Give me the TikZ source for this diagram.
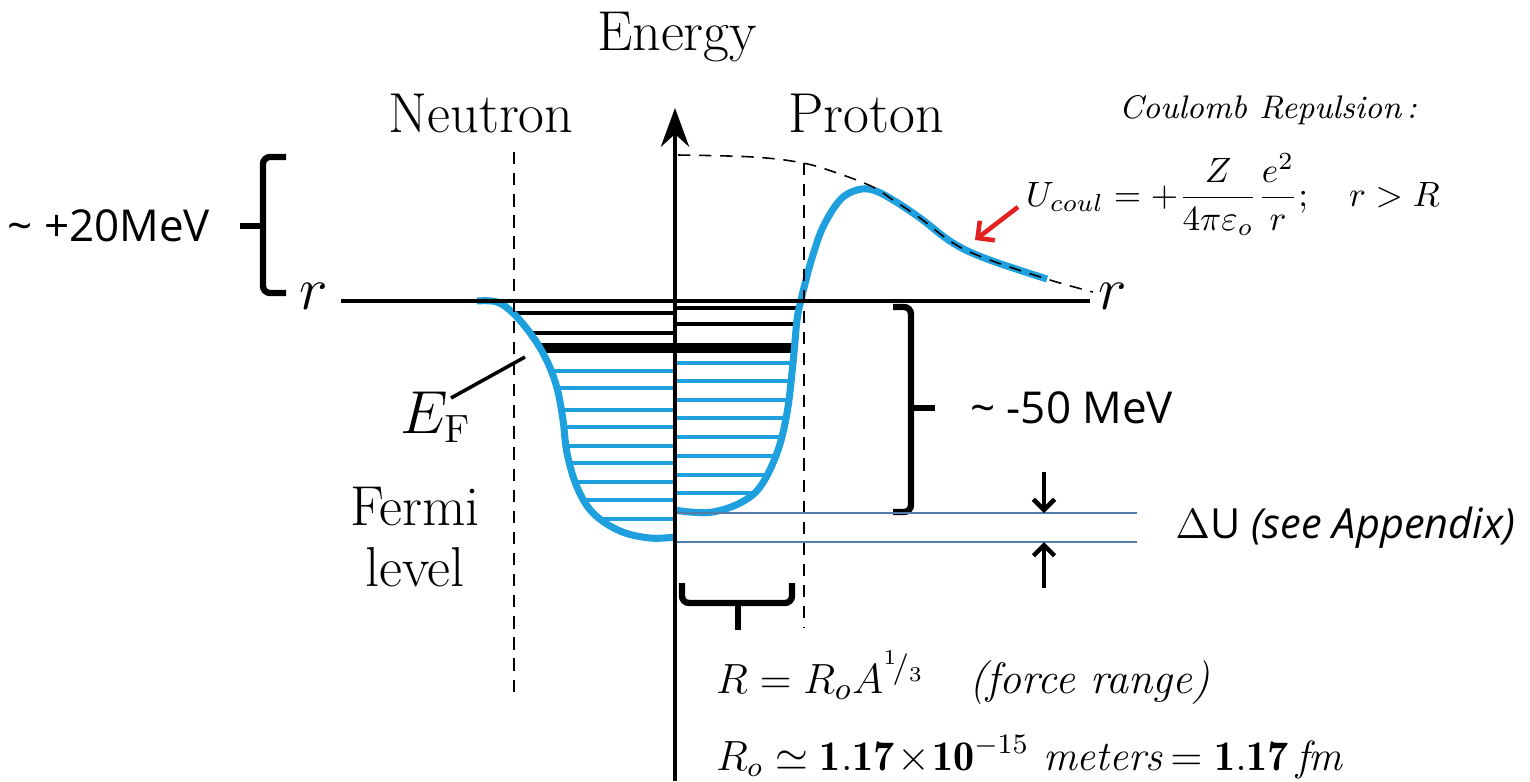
\documentclass[tikz,border=0pt]{standalone}
\usepackage{amsmath, amssymb}
\usepackage{fontspec}
\usetikzlibrary{arrows.meta}
\usetikzlibrary{positioning}

\newfontfamily\handfont{Open Sans}

\definecolor{wellblue}{RGB}{30,160,222}
\definecolor{gapblue}{RGB}{80,125,170}
\definecolor{arrowred}{RGB}{228,32,32}

\begin{document}
\begin{tikzpicture}[x=0.01cm, y=-0.01cm,
    every node/.style={inner sep=0pt, outer sep=0pt},
    big/.style={font=\fontsize{16}{17.6}\selectfont},
    hand/.style={font=\handfont\fontsize{12.5}{15}\selectfont},
    axis/.style={line width=1.2pt},
    brace/.style={line width=1.8pt, rounded corners=2pt},
    guide/.style={line width=0.45pt, dash pattern=on 3.5pt off 2.5pt},
    well/.style={draw=wellblue, line width=2pt},
    blacklevel/.style={line width=0.9pt},
    fermilevel/.style={line width=2.9pt},
    bluelevel/.style={draw=wellblue, line width=1.3pt},
    gapline/.style={draw=gapblue, line width=0.5pt},
    gaparrow/.style={line width=1.3pt, -{Straight Barb[length=3pt, width=6pt]}},
    pointer/.style={draw=arrowred, line width=1.3pt, -{Straight Barb[length=3.5pt, width=7pt]}}]

  % Page frame
  \useasboundingbox (0,0) rectangle (1530,781);

  % Titles
  \node[big, anchor=base] (energy) at (677,50) {Energy};
  \node[big, anchor=base] (neutron) at (481,132) {Neutron};
  \node[big, anchor=base] (proton) at (866,132) {Proton};

  % Filled levels, neutron side
  \begin{scope}
    \clip plot[smooth, tension=0.6] coordinates {(477,301) (497,302) (514,314) (533,337) (547,361) (557,388) (563,420) (567,453) (577,487) (593,513) (620,531) (650,538) (675,537)} -- (675,300) -- cycle;
    \foreach \y in {313,333} \draw[blacklevel] (470,\y) -- (676,\y);
    \draw[fermilevel] (470,348) -- (676,348);
    \foreach \y in {371,388,410,427,446,463,482,500,519} \draw[bluelevel] (470,\y) -- (676,\y);
  \end{scope}

  % Filled levels, proton side
  \begin{scope}
    \clip plot[smooth, tension=0.6] coordinates {(675,510) (690,512) (713,512) (740,503) (760,487) (777,453) (787,413) (793,363) (797,320) (801,300)} -- (675,300) -- cycle;
    \foreach \y in {308,324} \draw[blacklevel] (674,\y) -- (820,\y);
    \draw[fermilevel] (674,348) -- (820,348);
    \foreach \y in {363,381,400,418,437,456,475,493} \draw[bluelevel] (674,\y) -- (820,\y);
  \end{scope}

  % Potential wells
  \draw[well] plot[smooth, tension=0.6] coordinates {(477,301) (497,302) (514,314) (533,337) (547,361) (557,388) (563,420) (567,453) (577,487) (593,513) (620,531) (650,538) (675,537)};
  \draw[well] plot[smooth, tension=0.6] coordinates {(675,510) (690,512) (713,512) (740,503) (760,487) (777,453) (787,413) (793,363) (797,320) (801,300) (806,280) (812,258) (823,227) (840,200) (857,190) (873,190) (893,200) (920,218) (953,243) (987,259) (1047,279)};

  % Coulomb tail and nuclear edges
  \draw[guide] plot[smooth, tension=0.6] coordinates {(678,155) (753,157) (803,163) (840,174) (873,187) (893,200) (920,218) (953,243) (987,259) (1050,280) (1093,292)};
  \coordinate (ledgetop) at (514,152);
  \coordinate (ledgebot) at (514,698);
  \coordinate (redgetop) at (804,163);
  \coordinate (redgebot) at (804,628);
  \draw[guide] (ledgetop) -- (ledgebot);
  \draw[guide] (redgetop) -- (redgebot);

  % Axes
  \coordinate (ebottom) at (675,781);
  \coordinate (etop) at (675,108);
  \draw[axis, -{Stealth[length=11pt, width=8pt]}] (ebottom) -- (etop);
  \coordinate (rstart) at (341,301);
  \coordinate (rend) at (1090,301);
  \draw[axis] (rstart) -- (rend);
  \node[big] (rleft) at (314,296) {$r$};
  \node[big] (rright) at (1113,296) {$r$};

  % +20 MeV brace
  \draw[brace] (286,157) -- (263,157) -- (263,293) -- (286,293);
  \coordinate (mid20) at (240,226);
  \draw[brace] (263,226) -- (mid20);
  \node[hand, left=8.5pt of mid20] (barrier) {\textasciitilde{} +20MeV};

  % -50 MeV brace
  \draw[brace] (893,307) -- (911,307) -- (911,512) -- (893,512);
  \coordinate (mid50) at (935,408);
  \draw[brace] (911,408) -- (mid50);
  \node[hand, right=10pt of mid50] (depth) {\textasciitilde{} -50 MeV};

  % Well bottoms and their gap
  \coordinate (gaptopL) at (677,513);
  \coordinate (gaptopR) at (1137,513);
  \coordinate (gapbotL) at (677,542);
  \coordinate (gapbotR) at (1137,542);
  \draw[gapline] (gaptopL) -- (gaptopR);
  \draw[gapline] (gapbotL) -- (gapbotR);
  \coordinate (downtail) at (1044,472);
  \coordinate (downtip) at (1044,513);
  \coordinate (uptail) at (1044,588);
  \coordinate (uptip) at (1044,542);
  \draw[gaparrow] (downtail) -- (downtip);
  \draw[gaparrow] (uptail) -- (uptip);
  \coordinate (gaptext) at (1137,528);
  \node[hand, right=11pt of gaptext, font=\handfont\fontsize{11.8}{14}\selectfont] (deltau) {$\Delta$U \textit{(see Appendix)}};

  % Fermi level labels
  \node[big, anchor=base west] (ef) at (400,433) {$E_{\mathrm{F}}$};
  \coordinate (efend) at (451,398);
  \coordinate (efpoint) at (525,357);
  \draw[line width=1pt] (efend) -- (efpoint);
  \node[big, anchor=base] (fermi) at (415,525) {Fermi};
  \node[big, anchor=base] (level) at ([yshift=-17.6pt]fermi.base) {level};

  % Coulomb repulsion formula
  \node[anchor=base, font=\itshape\fontsize{9.3}{11}\selectfont] (coultitle) at (1268,118) {Coulomb Repulsion\,:};
  \node[font=\fontsize{10}{12}\selectfont] (coul) at (1233,195) {$\displaystyle U_{coul}=+\frac{Z}{4\pi\varepsilon_o}\frac{e^2}{r};\quad r>R$};
  \coordinate (redtail) at (1018,207);
  \coordinate (redtip) at (975,240);
  \draw[pointer] (redtail) -- (redtip);

  % Force range brace and formulas
  \draw[brace] (682,583) -- (682,603) -- (792,603) -- (792,583);
  \coordinate (rangetick) at (738,630);
  \draw[brace] (738,603) -- (rangetick);
  \node[anchor=base west, font=\fontsize{12.5}{14}\selectfont] (range) at (716,693) {$R=R_oA^{{}^1\!/_3}$\quad\textit{(force range)}};
  \node[anchor=base west, font=\fontsize{12}{14}\selectfont] (rnought) at (716,770) {$R_o\simeq\mathbf{1.17}\!\times\!\mathbf{10}^{-15}$\ \textit{meters}\,$=\mathbf{1.17}\,$\textit{fm}};

\end{tikzpicture}
\end{document}
